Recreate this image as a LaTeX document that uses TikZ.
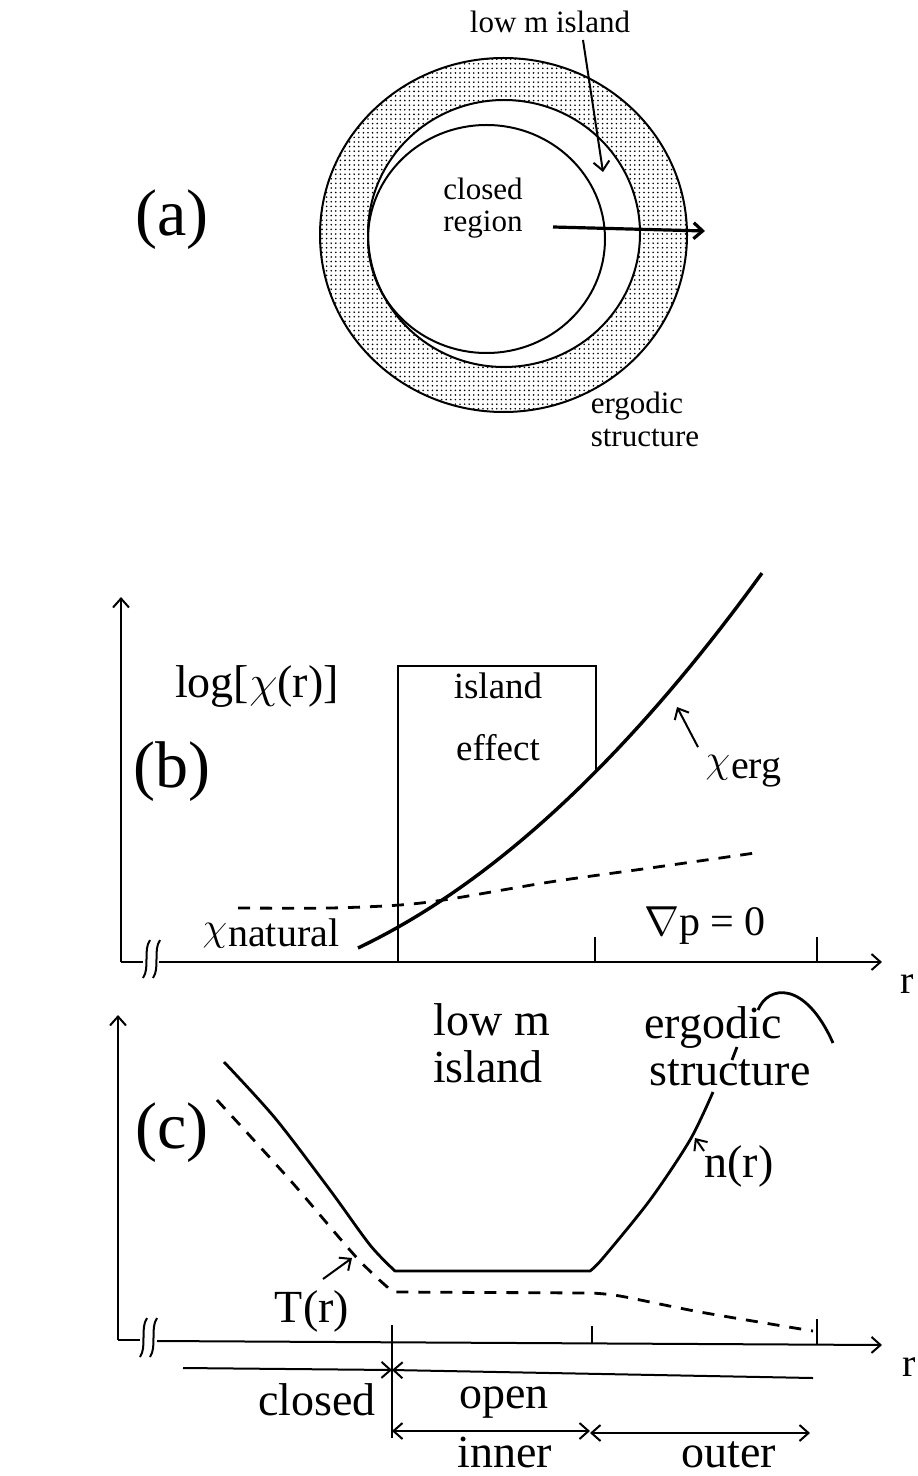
\documentclass[tikz,border=0pt]{standalone}
\usepackage{fix-cm}
\usepackage{fontspec}
\setmainfont{Liberation Serif}
\usetikzlibrary{arrows.meta,patterns.meta}

\newcommand{\chisub}[1]{$\chi$\kern0.5pt\raisebox{-0.35ex}{#1}}

\begin{document}
\begin{tikzpicture}[x=0.5pt, y=-0.5pt, line width=1pt,
    >={Straight Barb[length=4.5pt,width=8pt]},
    panel/.style={font=\fontsize{33}{36}\selectfont},
    lab/.style={font=\fontsize{23}{25}\selectfont},
    boxlab/.style={font=\fontsize{18.5}{20}\selectfont},
    smalllab/.style={font=\fontsize{15.5}{16}\selectfont},
    curve/.style={line width=1.7pt, line join=round},
    dashcurve/.style={line width=1.4pt, dash pattern=on 6pt off 5pt}]
	\useasboundingbox (0,0) rectangle (917,1476);

	% (a) cross section
	\node[panel] (pa) at (172,220) {(a)};
	\fill[even odd rule, pattern={Dots[distance=2.3pt,radius=0.45pt]}]
		(503.5,235) ellipse [x radius=183.5, y radius=177]
		(504,233.5) ellipse [x radius=136, y radius=133.5];
	\draw (503.5,235) ellipse [x radius=183.5, y radius=177];
	\draw (504,233.5) ellipse [x radius=136, y radius=133.5];
	\draw (486.5,239) ellipse [x radius=118.5, y radius=114];
	\node[smalllab, anchor=base] (lowisl) at (550,33) {low m island};
	\coordinate (isltail) at (583,40);
	\coordinate (isltip) at (603,172);
	\draw[->] (isltail) -- (isltip);
	\node[smalllab, anchor=base] (closedtxt) at (483,200) {closed};
	\node[smalllab, anchor=base] (regiontxt) at (483,232) {region};
	\coordinate (rtail) at (553,227);
	\coordinate (rtip) at (705,231);
	\draw[->, line width=1.6pt] (rtail) -- (rtip);
	\node[smalllab, anchor=base] (ergA) at (637,413) {ergodic};
	\node[smalllab, anchor=base] (strA) at (645,446) {structure};

	% (b) transport
	\node[panel] (pb) at (172,772) {(b)};
	\coordinate (bO) at (121,962);
	\coordinate (bY) at (121,597);
	\coordinate (bX) at (882,962);
	\draw[->] (bO) -- (bY);
	\draw (bO) -- (143,962);
	\draw[->] (159,962) -- (bX);
	\draw (150,940) .. controls (143,950) and (150,968) .. (143,978);
	\draw (160,940) .. controls (153,950) and (160,968) .. (153,978);
	\draw (398,962) -- (398,666) -- (596,666) -- (596,770);
	\draw (595,937) -- (595,962) (817,937) -- (817,962);
	\node[anchor=base west, font=\fontsize{20}{22}\selectfont] (rb) at (893,993) {r};
	\node[lab, anchor=base] (logchi) at (257,697) {log[$\chi$(r)]};
	\node[boxlab, anchor=base] (isl) at (498,698) {island};
	\node[boxlab, anchor=base] (eff) at (498,760) {effect};
	% chi_erg, parabola in u = (r-358)/100
	\draw[curve] plot[domain=0:4.04, samples=40] ({358+100*\x}, {948 - 47.6*\x - 11.19*\x*\x});
	\draw[dashcurve] plot[smooth] coordinates {(238,908) (330,908) (400,905) (450,899) (550,882) (650,868) (755,853)};
	\node[anchor=base west, font=\fontsize{20}{22}\selectfont] (chierg) at (698,772) {\chisub{erg}};
	\coordinate (ergtip) at (677,707);
	\draw[->] (chierg.north west) -- (ergtip);
	\node[anchor=base west, font=\fontsize{20}{22}\selectfont] (chinat) at (195,940) {\chisub{natural}};
	\node[anchor=base, font=\fontsize{21}{23}\selectfont] (gradp) at (705,935) {$\nabla$p = 0};

	% (c) profiles
	\node[panel] (pc) at (172,1133) {(c)};
	\coordinate (cO) at (118,1340);
	\coordinate (cY) at (118,1015);
	\coordinate (cX) at (882,1345);
	\draw[->] (cO) -- (cY);
	\draw (cO) -- (140,1340);
	\draw[->] (157,1341) -- (cX);
	\draw (147,1318) .. controls (140,1328) and (147,1347) .. (140,1357);
	\draw (157,1318) .. controls (150,1328) and (157,1347) .. (150,1357);
	\draw (592,1326) -- (592,1343) (817,1319) -- (817,1345);
	\node[anchor=base west, font=\fontsize{20}{22}\selectfont] (rc) at (895,1376) {r};
	\node[lab, anchor=base] (lowm) at (492,1035) {low m};
	\node[lab, anchor=base] (islc) at (488,1082) {island};
	\node[lab, anchor=base] (ergc) at (713,1038) {ergodic};
	\node[lab, anchor=base] (strc) at (730,1085) {structure};
	% density
	\draw[curve, line width=1.4pt] plot[smooth] coordinates {(224,1062) (275,1118) (330,1190) (370,1245) (395,1271)}
		-- (590,1271) -- plot[smooth] coordinates {(590,1271) (603,1258) (650,1200) (690,1140) (713,1092)};
	\draw[line width=1.4pt] (732,1060) -- (737,1047);
	\draw[line width=1.4pt] (758,1010) .. controls (768,985) and (805,980) .. (833,1043);
	\node[lab, anchor=base] (nlab) at (739,1177) {n(r)};
	\coordinate (ntail) at (704,1151);
	\coordinate (ntip) at (695,1138);
	\draw[->] (ntail) -- (ntip);
	% temperature
	\draw[dashcurve] plot[smooth] coordinates {(217,1100) (290,1180) (357,1258) (393,1292)}
		-- (590,1293) -- plot[smooth] coordinates {(590,1293) (620,1296) (700,1312) (813,1331)};
	\node[lab, anchor=base] (tlab) at (312,1322) {T(r)};
	\coordinate (ttail) at (323,1279);
	\coordinate (ttip) at (352,1258);
	\draw[->] (ttail) -- (ttip);

	% regions
	\coordinate (edge) at (392,1370);
	\draw (392,1325) -- (392,1438);
	\draw[->] (183,1368) -- (edge);
	\draw[<-] (edge) -- (813,1378);
	\draw[<->] (392,1431) -- (590,1431);
	\draw[<->] (590,1433) -- (810,1433);
	\node[lab, anchor=base] (closedc) at (317,1415) {closed};
	\node[lab, anchor=base] (openc) at (504,1408) {open};
	\node[lab, anchor=base] (innerc) at (505,1467) {inner};
	\node[lab, anchor=base] (outerc) at (729,1467) {outer};
\end{tikzpicture}
\end{document}
